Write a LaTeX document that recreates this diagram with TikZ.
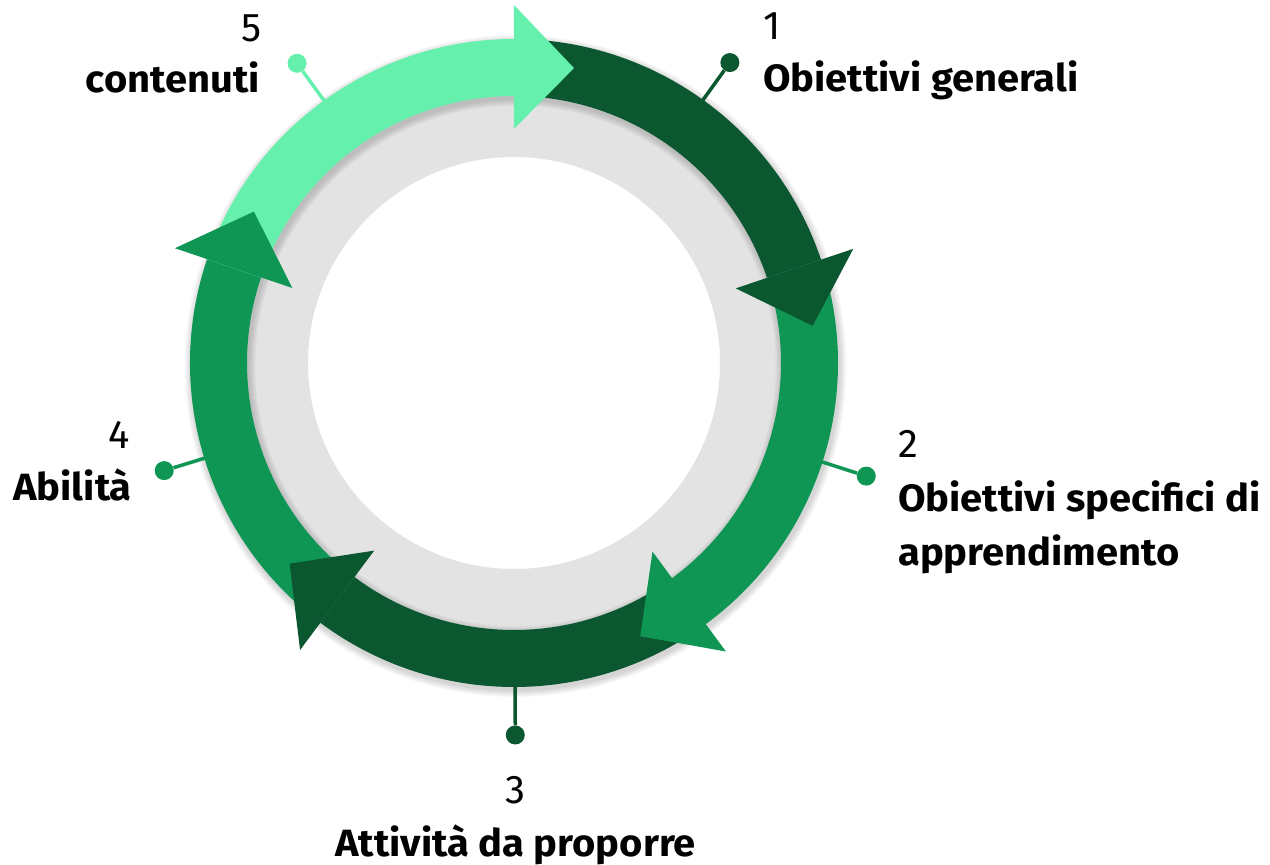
\documentclass[tikz,border=0pt]{standalone}
\usepackage{fontspec}
\setmainfont{Fira Sans}
\newfontfamily\lblfont{Fira Sans}[FakeStretch=1.05]
\begin{document}
\begin{tikzpicture}[x=1pt,y=1pt]
\definecolor{cdark}{HTML}{0A5730}
\definecolor{cmid}{HTML}{109654}
\definecolor{clight}{HTML}{66F0AE}
\definecolor{cgrey}{HTML}{E3E3E3}
\tikzset{
  lbl/.style={font=\lblfont\bfseries\fontsize{38}{44}\selectfont, inner sep=0pt},
  num/.style={font=\fontsize{40}{48}\selectfont, inner sep=0pt},
  conn/.style={line width=3.5pt},
  dotc/.style={circle, inner sep=0pt, minimum size=19pt},
}
\newcommand\bandseg[3]{\fill[#1] (#2:324) arc[start angle=#2, end angle=#3, radius=324] -- (#3:267) arc[start angle=#3, end angle=#2, radius=267] -- cycle;}
\newcommand\headtri[2]{\fill[#1] (#2:234) -- (#2:358) -- ({#2-11.5}:301) -- cycle;}
\useasboundingbox (-514,-502) rectangle (756,363);
\fill[white] (-514,-502) rectangle (756,363);
% grey ring
\fill[cgrey, even odd rule] (0,0) circle (270) (0,0) circle (206);
% soft shadow of the arrow ring
\foreach \i in {1,...,7}
  \fill[black, opacity=0.022, even odd rule] (1.5,-3) circle ({324+\i}) (1.5,-3) circle ({267-\i});
% connectors
\coordinate (r1) at (54.3:322);
\coordinate (r2) at (-17.8:322);
\coordinate (r3) at (-89.8:322);
\coordinate (r4) at (197.1:322);
\coordinate (r5) at (125.9:322);
\node[dotc, fill=cdark]  (d1) at (54.3:370) {};
\node[dotc, fill=cmid]   (d2) at (-17.8:370) {};
\node[dotc, fill=cdark]  (d3) at (-89.8:372) {};
\node[dotc, fill=cmid]   (d4) at (197.1:366) {};
\node[dotc, fill=clight] (d5) at (125.9:370) {};
\draw[conn, cdark]  (r1) -- (d1);
\draw[conn, cmid]   (r2) -- (d2);
\draw[conn, cdark]  (r3) -- (d3);
\draw[conn, cmid]   (r4) -- (d4);
\draw[conn, clight] (r5) -- (d5);
% arrow bands
\bandseg{cdark}{90}{18.6}
\bandseg{cmid}{18.6}{-53.7}
\bandseg{cdark}{-53.7}{-126.7}
\bandseg{cmid}{233.3}{161.3}
\bandseg{clight}{161.3}{90}
% arrow heads
\headtri{clight}{90}
\headtri{cdark}{18.6}
\headtri{cmid}{-53.7}
\headtri{cdark}{-126.7}
\headtri{cmid}{161.3}
% labels
\node[num, anchor=base west] (n1) at (249,323) {1};
\node[lbl, anchor=base west] (t1) at (249,271) {Obiettivi generali};
\node[num, anchor=base west] (n2) at (384,-94) {2};
\node[lbl, anchor=base west] (t2a) at (384,-148) {Obiettivi specifici di};
\node[lbl, anchor=base west] (t2b) at (384,-202) {apprendimento};
\node[num, anchor=base] (n3) at (1,-440) {3};
\node[lbl, anchor=base] (t3) at (1.5,-493) {Attività da proporre};
\node[num, anchor=base east] (n4) at (-384,-85) {4};
\node[lbl, anchor=base east] (t4) at (-382,-137) {Abilità};
\node[num, anchor=base east] (n5) at (-252,321) {5};
\node[lbl, anchor=base east] (t5) at (-254,270) {contenuti};
\end{tikzpicture}
\end{document}
